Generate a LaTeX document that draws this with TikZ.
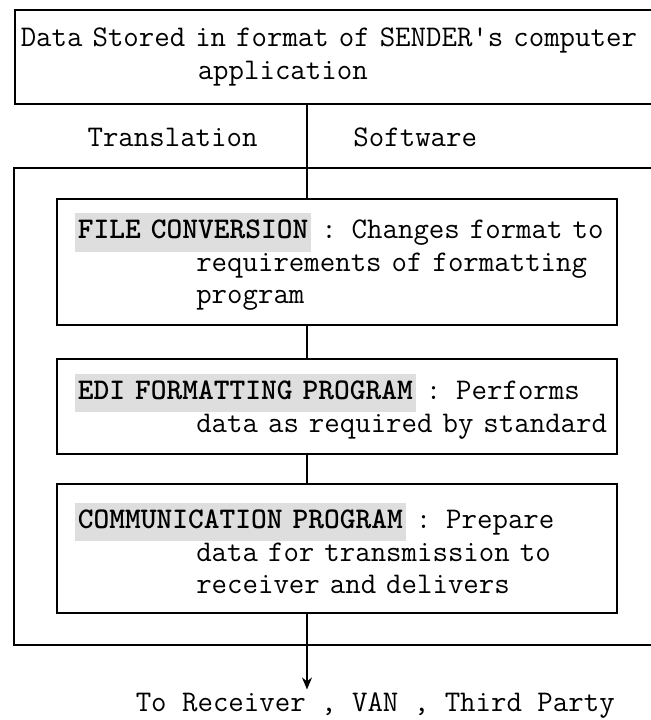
\documentclass[tikz,border=0pt]{standalone}
\usepackage{xcolor}
\usepackage{tikz}
\usetikzlibrary{arrows.meta, positioning}
\definecolor{screengray}{gray}{0.87}
\newcommand{\stagetitle}[1]{\hspace*{6pt}{\setlength{\fboxsep}{1.5pt}\colorbox{screengray}{\strut\bfseries #1}}}
\newcommand{\tabin}[1]{\hspace*{#1em}}

\begin{document}
\begin{tikzpicture}[
    x=0.5pt, y=-0.5pt, line width=0.8pt,
    every node/.style={font=\ttfamily\fontsize{15pt}{16.25pt}\selectfont},
    box/.style={draw, anchor=north west, align=left},
    stage/.style={box, minimum width=280pt, text width=274pt, inner xsep=3pt},
    arrow/.style={-{Stealth[length=6pt, width=5pt]}},
  ]
  \useasboundingbox (0,0) rectangle (651,720);

  % sender side
  \node[box, minimum width=343pt, text width=337pt, inner xsep=3pt,
        minimum height=47pt] (sender) at (14,9)
        {Data Stored in format of SENDER's computer\\\tabin{5.9}application};
  \coordinate (spine) at (307,0);

  \node[anchor=base east] (translation) at (265,146) {Translation};
  \node[anchor=base west] (software) at (346,146) {Software};

  % translation software frame
  \node[draw, anchor=north west, minimum width=343.5pt,
        minimum height=238.5pt] (package) at (13,167) {};

  \node[stage, minimum height=63pt] (file) at (56,198)
        {\stagetitle{FILE CONVERSION} : Changes format to\\
         \tabin{4.45}requirements of formatting\\
         \tabin{4.45}program};
  \node[stage, minimum height=47.5pt] (edi) at (56,358)
        {\stagetitle{EDI FORMATTING PROGRAM} : Performs\\
         \tabin{4.45}data as required by standard};
  \node[stage, minimum height=64.5pt] (comm) at (56,483)
        {\stagetitle{COMMUNICATION PROGRAM} : Prepare\\
         \tabin{4.45}data for transmission to\\
         \tabin{4.45}receiver and delivers};

  \node[anchor=base west, inner sep=1pt] (receiver) at (133,711)
        {To Receiver , VAN , Third Party};

  \draw (sender.south -| spine) -- (file.north -| spine);
  \draw (file.south -| spine) -- (edi.north -| spine);
  \draw (edi.south -| spine) -- (comm.north -| spine);
  \draw[arrow] (comm.south -| spine) -- (receiver.north -| spine);

\end{tikzpicture}
\end{document}
